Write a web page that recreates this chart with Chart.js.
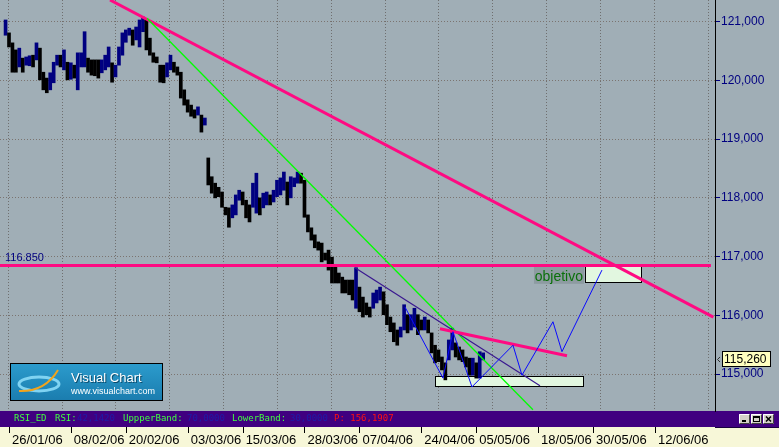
<!DOCTYPE html>
<html>
<head>
<meta charset="utf-8">
<script src="https://cdn.jsdelivr.net/npm/chart.js@4.4.1/dist/chart.umd.min.js"></script>
<style>
  html, body { margin: 0; padding: 0; background: #a0aeb6; }
  canvas { display: block; }
</style>
</head>
<body>
<canvas id="chart" width="779" height="447"></canvas>
<script>
// --- data (x in trading days from 26/01/06, prices) ---
const dateLabels = ['26/01/06', '08/02/06', '20/02/06', '03/03/06', '15/03/06', '28/03/06',
  '07/04/06', '24/04/06', '05/05/06', '18/05/06', '30/05/06', '12/06/06'];
const dateDays = [0, 9, 17, 26, 34, 43, 51, 60, 68, 77, 85, 94];
const priceTicks = [115, 116, 117, 118, 119, 120, 121];

const barStartDay = -0.5;
const barStep = 0.5;
const highs = [
  121.03, 120.81, 120.64, 120.52, 120.55, 120.38, 120.40, 120.42, 120.43, 120.64,
  120.55, 120.14, 120.04, 120.13, 120.31, 120.43, 120.43, 120.52, 120.31, 120.30,
  120.26, 120.47, 120.47, 120.83, 120.38, 120.35, 120.35, 120.35, 120.35, 120.43,
  120.57, 120.30, 120.26, 120.57, 120.81, 120.86, 120.89, 120.86, 120.91, 121.03,
  121.08, 121.03, 120.72, 120.47, 120.40, 120.26, 120.26, 120.30, 120.43, 120.31,
  120.23, 120.14, 119.84, 119.67, 119.58, 119.50, 119.55, 119.41, 119.36, 118.68,
  118.36, 118.25, 118.18, 118.10, 117.84, 117.83, 117.88, 118.05, 118.13, 118.10,
  117.96, 117.88, 118.25, 118.42, 118.00, 118.08, 118.10, 118.05, 118.13, 118.30,
  118.34, 118.44, 118.27, 118.36, 118.34, 118.44, 118.42, 118.30, 117.71, 117.49,
  117.37, 117.25, 117.23, 117.06, 117.11, 116.99, 116.82, 116.72, 116.65, 116.60,
  116.60, 116.60, 116.81, 116.48, 116.31, 116.21, 116.14, 116.38, 116.43, 116.48,
  116.40, 116.18, 115.97, 115.87, 115.75, 115.80, 116.18, 116.01, 116.01, 116.12,
  116.01, 115.92, 115.97, 115.92, 115.70, 115.49, 115.41, 115.29, 115.19, 115.58,
  115.78, 115.53, 115.46, 115.41, 115.29, 115.27, 115.27, 115.19, 115.38, 115.36
];
const lows = [
  120.77, 120.57, 120.14, 120.14, 120.23, 120.14, 120.26, 120.25, 120.23, 120.35,
  120.01, 119.84, 119.79, 119.84, 119.96, 120.26, 120.23, 120.18, 120.01, 120.02,
  120.04, 119.84, 120.23, 120.23, 120.14, 120.09, 120.08, 120.04, 120.13, 120.18,
  120.23, 119.97, 120.06, 120.26, 120.43, 120.65, 120.77, 120.60, 120.69, 120.57,
  120.83, 120.52, 120.43, 120.31, 120.30, 119.97, 119.96, 120.06, 120.18, 120.14,
  120.09, 119.70, 119.58, 119.46, 119.39, 119.36, 119.41, 119.12, 119.24, 118.22,
  118.08, 118.00, 118.02, 117.84, 117.71, 117.50, 117.66, 117.71, 117.96, 117.88,
  117.66, 117.59, 117.84, 117.74, 117.71, 117.83, 117.88, 117.88, 117.93, 118.02,
  118.05, 118.13, 117.88, 118.00, 118.19, 118.25, 118.25, 117.67, 117.42, 117.28,
  117.15, 117.11, 116.91, 116.94, 116.77, 116.55, 116.55, 116.55, 116.38, 116.38,
  116.35, 116.26, 116.12, 116.06, 115.97, 116.01, 115.97, 116.12, 116.21, 116.26,
  116.01, 115.84, 115.72, 115.55, 115.49, 115.63, 115.75, 115.70, 115.75, 115.80,
  115.67, 115.75, 115.75, 115.70, 115.36, 115.19, 115.21, 115.07, 114.90, 115.24,
  115.41, 115.29, 115.24, 115.21, 115.12, 114.98, 114.98, 114.93, 114.93, 115.24
];
const lastPrice = 115.26;

// drawn studies: [day, price] pairs
const longTrend = [[14.70, 121.37], [102.5, 115.97]];
const levelPrice = 116.85;
const levelLine = [[-1.31, levelPrice], [102.15, levelPrice]];
const greenTrend = [[20.08, 121.06], [76.25, 114.39]];
const violetTrend = [[50.35, 116.81], [77.27, 114.80]];
const shortTrend = [[62.72, 115.77], [81.20, 115.31]];
const projection = [[57.63, 116.14], [63.15, 114.93], [64.61, 115.72], [67.37, 114.78],
  [73.34, 115.49], [74.65, 114.98], [79.16, 115.89], [80.47, 115.38], [86.29, 116.77]];
const supportZone = [61.99, 83.53, 114.80, 114.97];   // day from, day to, price low, price high
const targetZone = [83.82, 91.97, 116.57, 116.86];

const rsiValue = 42.1420;
const upperBand = 70.0;
const lowerBand = 30.0;
const pValue = 156.1907;

// --- helpers ---
const comma = (v, d) => v.toFixed(d).replace('.', ',');
const pts = arr => arr.map(p => ({x: p[0], y: p[1]}));

const bars = highs.map((h, i) => ({x: barStartDay + barStep * i, y: [lows[i], h]}));
const barColors = highs.map((h, i) => {
  if (i === 0) return '#000080';
  const mid = (h + lows[i]) / 2, prev = (highs[i - 1] + lows[i - 1]) / 2;
  return mid >= prev ? '#000080' : '#000000';
});

function lineSet(data, color, width) {
  return {type: 'line', data: pts(data), borderColor: color, borderWidth: width,
    pointRadius: 0, tension: 0, fill: false};
}

const decor = {
  id: 'decor',
  beforeDraw(chart) {
    const c = chart.ctx;
    c.save();
    c.fillStyle = '#a0aeb6';
    c.fillRect(0, 0, chart.width, chart.height);
    c.fillStyle = '#f7f7d8';
    c.fillRect(0, 427, chart.width, 20);
    c.fillStyle = '#400080';
    c.fillRect(0, 411, chart.width, 16);
    c.restore();
  },
  beforeDatasetsDraw(chart) {
    const c = chart.ctx, x = chart.scales.x, y = chart.scales.y;
    c.save();
    [supportZone, targetZone].forEach(z => {
      const x1 = Math.round(x.getPixelForValue(z[0])) + 0.5;
      const x2 = Math.round(x.getPixelForValue(z[1])) + 0.5;
      const y1 = Math.round(y.getPixelForValue(z[3])) + 0.5;
      const y2 = Math.round(y.getPixelForValue(z[2])) + 0.5;
      c.fillStyle = '#e2f7e0';
      c.fillRect(x1, y1, x2 - x1, y2 - y1);
      c.strokeStyle = '#000';
      c.lineWidth = 1;
      c.strokeRect(x1, y1, x2 - x1, y2 - y1);
    });
    // "objetivo" label
    const tx = x.getPixelForValue(targetZone[0]) - 1;
    const ty = y.getPixelForValue(targetZone[3]);
    c.fillStyle = '#8d9ba1';
    c.fillRect(tx - 50, ty + 2, 50, 17);
    c.fillStyle = '#0a700a';
    c.font = '14px "Liberation Sans", Arial, sans-serif';
    c.textAlign = 'right';
    c.textBaseline = 'alphabetic';
    c.fillText('objetivo', tx - 1, ty + 16);
    c.restore();
  },
  afterDraw(chart) {
    const c = chart.ctx, x = chart.scales.x, y = chart.scales.y;
    c.save();
    // level label
    c.fillStyle = '#000080';
    c.font = '11px "Liberation Sans", Arial, sans-serif';
    c.textAlign = 'left';
    c.textBaseline = 'alphabetic';
    c.fillText(levelPrice.toFixed(3), 5, y.getPixelForValue(levelPrice) - 4);

    // last price tag
    const py = Math.round(y.getPixelForValue(lastPrice));
    c.fillStyle = '#ffffc0';
    c.fillRect(722.5, py - 7.5, 48, 15);
    c.strokeStyle = '#000';
    c.lineWidth = 1;
    c.strokeRect(722.5, py - 7.5, 48, 15);
    c.fillStyle = '#000';
    c.font = '12px "Liberation Sans", Arial, sans-serif';
    c.textBaseline = 'middle';
    c.fillText(comma(lastPrice, 3), 724, py + 0.5);
    c.beginPath();
    c.moveTo(720, py - 2); c.lineTo(717.5, py + 0.5); c.lineTo(720, py + 3);
    c.strokeStyle = '#303030';
    c.stroke();

    // date tick marks
    c.strokeStyle = '#000';
    dateDays.forEach(d => {
      const px = Math.round(x.getPixelForValue(d)) + 0.5;
      c.beginPath(); c.moveTo(px, 427); c.lineTo(px, 433); c.stroke();
    });

    // RSI strip
    c.font = '9px "DejaVu Sans Mono", monospace';
    c.textBaseline = 'middle';
    const strip = [
      ['RSI_ED', '#40ff40', 14], ['RSI:', '#40ff40', 55], [comma(rsiValue, 4), '#1c1ca8', 77],
      ['UppperBand:', '#40ff40', 123], [comma(upperBand, 4), '#1c1ca8', 187],
      ['LowerBand:', '#40ff40', 232], [comma(lowerBand, 4), '#1c1ca8', 290],
      ['P: ' + comma(pValue, 4), '#ff1010', 334]
    ];
    strip.forEach(s => { c.fillStyle = s[1]; c.fillText(s[0], s[2], 419); });

    // dark line under right of strip
    c.strokeStyle = '#1a0040';
    c.beginPath(); c.moveTo(715, 427.5); c.lineTo(779, 427.5); c.stroke();

    // window buttons
    [739, 751, 763].forEach((bx, i) => {
      c.fillStyle = '#d4d0c8';
      c.fillRect(bx, 414, 11, 10);
      c.strokeStyle = '#fff';
      c.beginPath(); c.moveTo(bx + 0.5, 423.5); c.lineTo(bx + 0.5, 414.5); c.lineTo(bx + 10.5, 414.5); c.stroke();
      c.strokeStyle = '#404040';
      c.beginPath(); c.moveTo(bx + 10.5, 414.5); c.lineTo(bx + 10.5, 423.5); c.lineTo(bx + 0.5, 423.5); c.stroke();
      c.strokeStyle = '#000';
      c.fillStyle = '#000';
      if (i === 0) c.fillRect(bx + 3, 420, 4, 2);
      if (i === 1) { c.strokeRect(bx + 2.5, 416.5, 6, 5); c.fillRect(bx + 2.5, 416.5, 6, 1.5); }
      if (i === 2) {
        c.lineWidth = 1.5;
        c.beginPath(); c.moveTo(bx + 3, 416.5); c.lineTo(bx + 8, 421.5);
        c.moveTo(bx + 8, 416.5); c.lineTo(bx + 3, 421.5); c.stroke();
        c.lineWidth = 1;
      }
    });

    // Visual Chart logo
    const g = c.createLinearGradient(0, 363, 0, 401);
    g.addColorStop(0, '#2c9ccd');
    g.addColorStop(1, '#1a7cae');
    c.fillStyle = g;
    c.fillRect(10.5, 363.5, 152, 37);
    c.strokeStyle = '#000';
    c.strokeRect(10.5, 363.5, 152, 37);
    c.strokeStyle = '#7fd3f2';
    c.lineWidth = 3;
    c.beginPath(); c.ellipse(39, 384, 20, 7, 0, 0, Math.PI * 2); c.stroke();
    c.strokeStyle = '#f2a41c';
    c.lineWidth = 2;
    c.beginPath(); c.moveTo(19, 391); c.quadraticCurveTo(45, 392, 58, 370); c.stroke();
    c.lineWidth = 1;
    c.textAlign = 'left';
    c.textBaseline = 'alphabetic';
    c.font = '13px "Liberation Sans", Arial, sans-serif';
    c.fillStyle = '#0b4a6a';
    c.fillText('Visual Chart', 72, 383);
    c.fillStyle = '#ffffff';
    c.fillText('Visual Chart', 71, 382);
    c.font = '9px "Liberation Sans", Arial, sans-serif';
    c.fillText('www.visualchart.com', 71, 394);
    c.restore();
  }
};

new Chart(document.getElementById('chart'), {
  type: 'bar',
  data: {
    datasets: [
      lineSet(projection, '#0a0aff', 1),
      lineSet(shortTrend, '#ff0a82', 3),
      lineSet(violetTrend, '#3a1890', 1.2),
      lineSet(greenTrend, '#00ff00', 1.3),
      lineSet(levelLine, '#ff0a82', 3),
      lineSet(longTrend, '#ff0a82', 3),
      {type: 'bar', data: bars, backgroundColor: barColors, barThickness: 3, borderWidth: 0, grouped: false}
    ]
  },
  options: {
    responsive: false,
    animation: false,
    events: [],
    layout: {padding: 0},
    plugins: {legend: {display: false}, tooltip: {enabled: false}},
    scales: {
      x: {
        type: 'linear', position: 'bottom', min: -1.31, max: 102.74, offset: false,
        afterBuildTicks: s => { s.ticks = dateDays.map(v => ({value: v})); },
        afterFit: s => { s.height = 36; s.paddingLeft = 0; s.paddingRight = 0; },
        grid: {drawOnChartArea: false, drawTicks: false},
        border: {display: false},
        ticks: {
          autoSkip: false, maxRotation: 0, align: 'start', labelOffset: 3, padding: 22,
          color: '#000', font: {family: '"Liberation Sans", Arial', size: 13},
          callback: (v, i) => dateLabels[i]
        }
      },
      xg: {
        type: 'linear', position: 'top', min: -0.142, max: 12.115,
        afterFit: s => { s.height = 0; s.paddingLeft = 0; s.paddingRight = 0; },
        ticks: {display: false, stepSize: 1, includeBounds: false},
        grid: {color: '#6f6f6f', drawTicks: false},
        border: {display: false, dash: [1, 2]}
      },
      y: {
        type: 'linear', position: 'right', min: 114.37, max: 121.37,
        afterBuildTicks: s => { s.ticks = priceTicks.map(v => ({value: v})); },
        afterFit: s => { s.width = 64; s.paddingTop = 0; s.paddingBottom = 0; },
        ticks: {
          padding: 1, color: '#000080',
          font: {family: '"Liberation Sans", Arial', size: 12},
          callback: v => comma(v, 3)
        },
        grid: {color: '#7b7470', tickColor: '#000080', tickLength: 5},
        border: {display: true, color: '#000', dash: [1, 2]}
      }
    }
  },
  plugins: [decor]
});
</script>
</body>
</html>
